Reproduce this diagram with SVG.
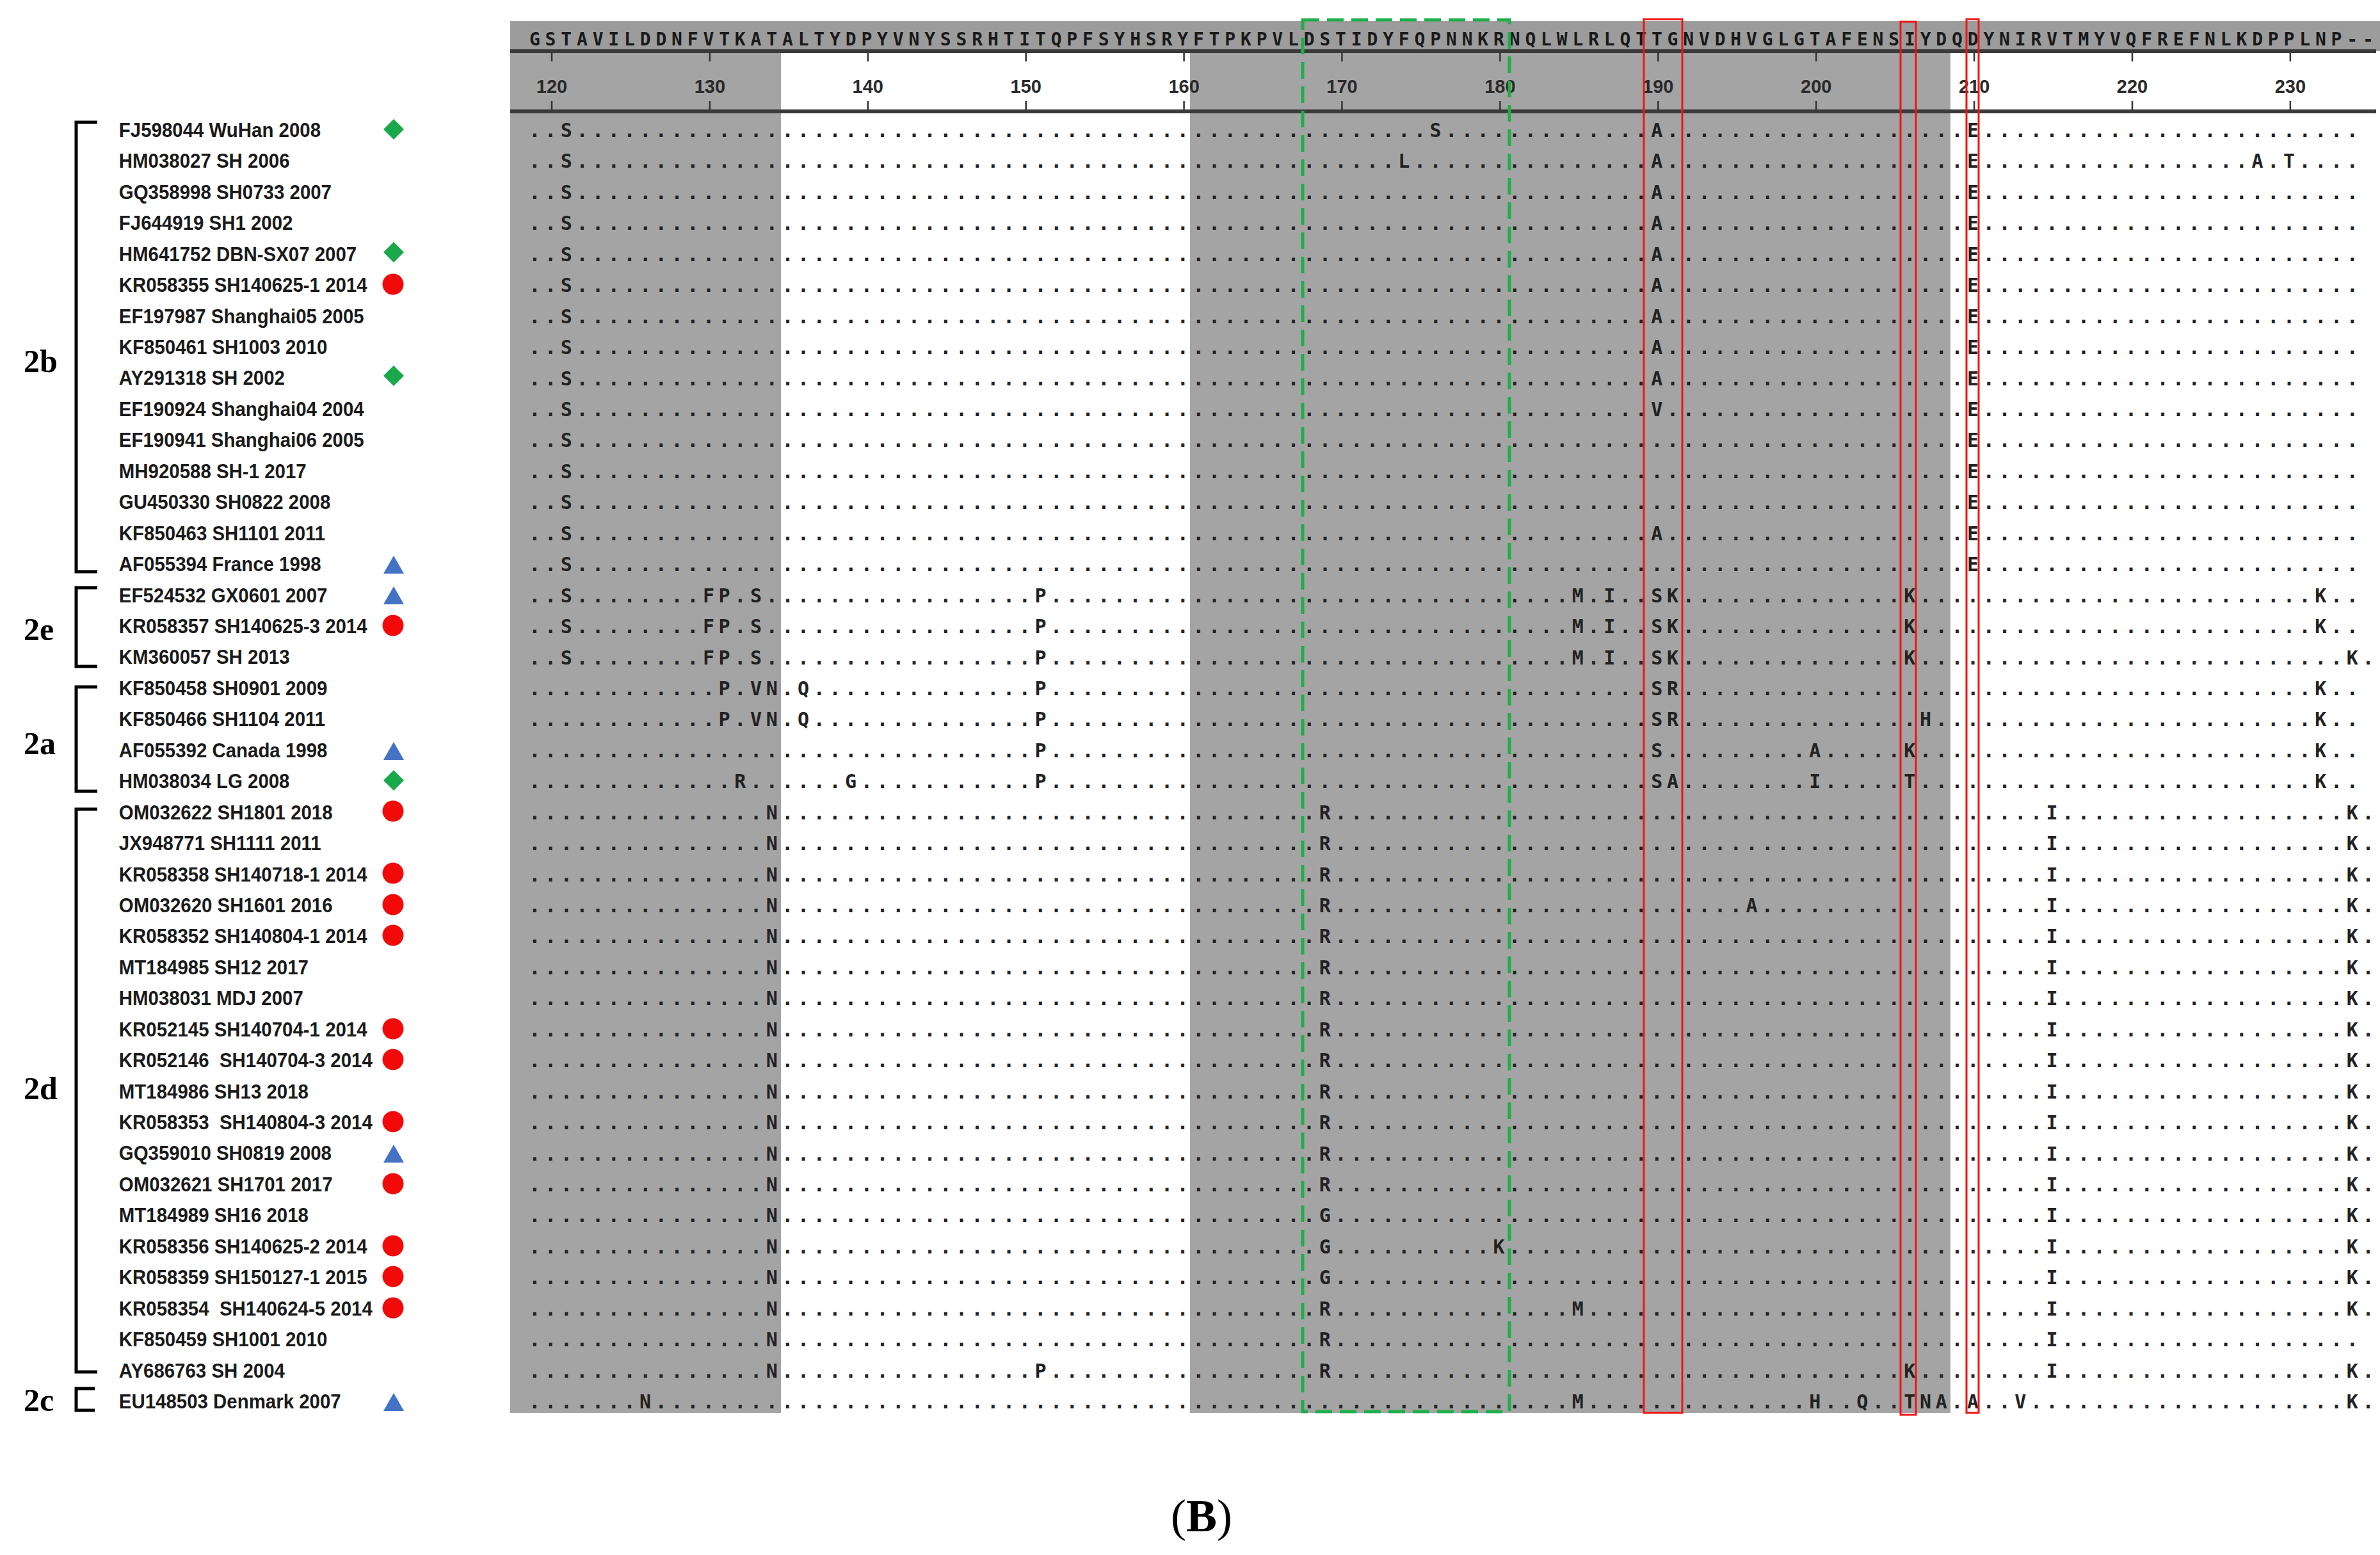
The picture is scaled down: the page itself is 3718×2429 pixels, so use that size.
<svg xmlns="http://www.w3.org/2000/svg" width="3718" height="2429" viewBox="0 0 3718 2429">
<style>
.seq{font-family:"DejaVu Sans Mono",monospace;font-weight:700;font-size:30px;letter-spacing:6.63px;fill:#222}
.hdr{font-family:"DejaVu Sans Mono",monospace;font-weight:700;font-size:28px;letter-spacing:7.833px;fill:#1a1a1a}
.num{font-family:"Liberation Sans",Arial,sans-serif;font-weight:700;font-size:29px;fill:#2a2a2a;text-anchor:middle}
.lbl{font-family:"Liberation Sans",Arial,sans-serif;font-weight:700;font-size:32px;fill:#1a1a1a}
.grp{font-family:"Liberation Serif","Times New Roman",serif;font-weight:700;font-size:50px;fill:#000}
.br{fill:none;stroke:#000;stroke-width:5}
.dia{fill:#19a94b}.cir{fill:#f20a0a}.tri{fill:#4472c4}
.tick{stroke:#333;stroke-width:2.5}
.rb{fill:none;stroke:#f01414;stroke-width:3}
</style>
<rect width="3718" height="2429" fill="#fff"/>
<g id="shading">
<rect x="797" y="33" width="2921" height="47" fill="#9c9c9c"/>
<rect x="797" y="78" width="423" height="2129" fill="#a4a4a4"/>
<rect x="1859" y="78" width="1188" height="2129" fill="#a4a4a4"/>
</g>
<g id="ruler">
<line x1="797" y1="80" x2="3712" y2="80" stroke="#3a3a3a" stroke-width="6"/>
<line x1="797" y1="174" x2="3712" y2="174" stroke="#3a3a3a" stroke-width="6"/>
<g class="tick">
<line x1="862" y1="82" x2="862" y2="96"/><line x1="862" y1="158" x2="862" y2="172"/>
<line x1="1108.9" y1="82" x2="1108.9" y2="96"/><line x1="1108.9" y1="158" x2="1108.9" y2="172"/>
<line x1="1355.8" y1="82" x2="1355.8" y2="96"/><line x1="1355.8" y1="158" x2="1355.8" y2="172"/>
<line x1="1602.7" y1="82" x2="1602.7" y2="96"/><line x1="1602.7" y1="158" x2="1602.7" y2="172"/>
<line x1="1849.6" y1="82" x2="1849.6" y2="96"/><line x1="1849.6" y1="158" x2="1849.6" y2="172"/>
<line x1="2096.5" y1="82" x2="2096.5" y2="96"/><line x1="2096.5" y1="158" x2="2096.5" y2="172"/>
<line x1="2343.4" y1="82" x2="2343.4" y2="96"/><line x1="2343.4" y1="158" x2="2343.4" y2="172"/>
<line x1="2590.3" y1="82" x2="2590.3" y2="96"/><line x1="2590.3" y1="158" x2="2590.3" y2="172"/>
<line x1="2837.2" y1="82" x2="2837.2" y2="96"/><line x1="2837.2" y1="158" x2="2837.2" y2="172"/>
<line x1="3084.1" y1="82" x2="3084.1" y2="96"/><line x1="3084.1" y1="158" x2="3084.1" y2="172"/>
<line x1="3331" y1="82" x2="3331" y2="96"/><line x1="3331" y1="158" x2="3331" y2="172"/>
<line x1="3577.9" y1="82" x2="3577.9" y2="96"/><line x1="3577.9" y1="158" x2="3577.9" y2="172"/>
</g>
<text class="num" x="862" y="145">120</text>
<text class="num" x="1108.9" y="145">130</text>
<text class="num" x="1355.8" y="145">140</text>
<text class="num" x="1602.7" y="145">150</text>
<text class="num" x="1849.6" y="145">160</text>
<text class="num" x="2096.5" y="145">170</text>
<text class="num" x="2343.4" y="145">180</text>
<text class="num" x="2590.3" y="145">190</text>
<text class="num" x="2837.2" y="145">200</text>
<text class="num" x="3084.1" y="145">210</text>
<text class="num" x="3331" y="145">220</text>
<text class="num" x="3577.9" y="145">230</text>
<text class="hdr" x="826.9" y="71">GSTAVILDDNFVTKATALTYDPYVNYSSRHTITQPFSYHSRYFTPKPVLDSTIDYFQPNNKRNQLWLRLQTTGNVDHVGLGTAFENSIYDQDYNIRVTMYVQFREFNLKDPPLNP--</text>
</g>
<g id="brackets">
<path class="br" d="M152,191 H119 V893 H152"/>
<path class="br" d="M152,918 H119 V1041 H152"/>
<path class="br" d="M152,1073 H119 V1236 H152"/>
<path class="br" d="M152,1264 H119 V2143 H152"/>
<path class="br" d="M148,2169 H119 V2203 H148"/>
<text class="grp" x="37" y="581">2b</text>
<text class="grp" x="37" y="1000">2e</text>
<text class="grp" x="37" y="1178">2a</text>
<text class="grp" x="37" y="1717">2d</text>
<text class="grp" x="37" y="2204">2c</text>
</g>
<g id="r01"><text class="lbl" transform="scale(0.92,1)" x="202" y="214">FJ598044 WuHan 2008</text><polygon class="dia" points="615,186 631,202 615,218 599,202"/>
<text class="seq" y="214"><tspan x="826.3">..</tspan><tspan x="875.7">S</tspan><tspan x="900.4">......................................................</tspan><tspan x="2233.6">S</tspan><tspan x="2258.3">.............</tspan><tspan x="2579.3">A</tspan><tspan x="2604">...................</tspan><tspan x="3073.1">E</tspan><tspan x="3097.8">........................</tspan></text></g>
<g id="r02"><text class="lbl" transform="scale(0.92,1)" x="202" y="262.4">HM038027 SH 2006</text>
<text class="seq" y="262.4"><tspan x="826.3">..</tspan><tspan x="875.7">S</tspan><tspan x="900.4">....................................................</tspan><tspan x="2184.3">L</tspan><tspan x="2208.9">...............</tspan><tspan x="2579.3">A</tspan><tspan x="2604">...................</tspan><tspan x="3073.1">E</tspan><tspan x="3097.8">.................</tspan><tspan x="3517.5">A.T</tspan><tspan x="3591.6">....</tspan></text></g>
<g id="r03"><text class="lbl" transform="scale(0.92,1)" x="202" y="310.9">GQ358998 SH0733 2007</text>
<text class="seq" y="310.9"><tspan x="826.3">..</tspan><tspan x="875.7">S</tspan><tspan x="900.4">....................................................................</tspan><tspan x="2579.3">A</tspan><tspan x="2604">...................</tspan><tspan x="3073.1">E</tspan><tspan x="3097.8">........................</tspan></text></g>
<g id="r04"><text class="lbl" transform="scale(0.92,1)" x="202" y="359.3">FJ644919 SH1 2002</text>
<text class="seq" y="359.3"><tspan x="826.3">..</tspan><tspan x="875.7">S</tspan><tspan x="900.4">....................................................................</tspan><tspan x="2579.3">A</tspan><tspan x="2604">...................</tspan><tspan x="3073.1">E</tspan><tspan x="3097.8">........................</tspan></text></g>
<g id="r05"><text class="lbl" transform="scale(0.92,1)" x="202" y="407.8">HM641752 DBN-SX07 2007</text><polygon class="dia" points="615,378 631,394 615,410 599,394"/>
<text class="seq" y="407.8"><tspan x="826.3">..</tspan><tspan x="875.7">S</tspan><tspan x="900.4">....................................................................</tspan><tspan x="2579.3">A</tspan><tspan x="2604">...................</tspan><tspan x="3073.1">E</tspan><tspan x="3097.8">........................</tspan></text></g>
<g id="r06"><text class="lbl" transform="scale(0.92,1)" x="202" y="456.2">KR058355 SH140625-1 2014</text><circle class="cir" cx="614" cy="444" r="16.5"/>
<text class="seq" y="456.2"><tspan x="826.3">..</tspan><tspan x="875.7">S</tspan><tspan x="900.4">....................................................................</tspan><tspan x="2579.3">A</tspan><tspan x="2604">...................</tspan><tspan x="3073.1">E</tspan><tspan x="3097.8">........................</tspan></text></g>
<g id="r07"><text class="lbl" transform="scale(0.92,1)" x="202" y="504.6">EF197987 Shanghai05 2005</text>
<text class="seq" y="504.6"><tspan x="826.3">..</tspan><tspan x="875.7">S</tspan><tspan x="900.4">....................................................................</tspan><tspan x="2579.3">A</tspan><tspan x="2604">...................</tspan><tspan x="3073.1">E</tspan><tspan x="3097.8">........................</tspan></text></g>
<g id="r08"><text class="lbl" transform="scale(0.92,1)" x="202" y="553.1">KF850461 SH1003 2010</text>
<text class="seq" y="553.1"><tspan x="826.3">..</tspan><tspan x="875.7">S</tspan><tspan x="900.4">....................................................................</tspan><tspan x="2579.3">A</tspan><tspan x="2604">...................</tspan><tspan x="3073.1">E</tspan><tspan x="3097.8">........................</tspan></text></g>
<g id="r09"><text class="lbl" transform="scale(0.92,1)" x="202" y="601.5">AY291318 SH 2002</text><polygon class="dia" points="615,571 631,587 615,603 599,587"/>
<text class="seq" y="601.5"><tspan x="826.3">..</tspan><tspan x="875.7">S</tspan><tspan x="900.4">....................................................................</tspan><tspan x="2579.3">A</tspan><tspan x="2604">...................</tspan><tspan x="3073.1">E</tspan><tspan x="3097.8">........................</tspan></text></g>
<g id="r10"><text class="lbl" transform="scale(0.92,1)" x="202" y="650">EF190924 Shanghai04 2004</text>
<text class="seq" y="650"><tspan x="826.3">..</tspan><tspan x="875.7">S</tspan><tspan x="900.4">....................................................................</tspan><tspan x="2579.3">V</tspan><tspan x="2604">...................</tspan><tspan x="3073.1">E</tspan><tspan x="3097.8">........................</tspan></text></g>
<g id="r11"><text class="lbl" transform="scale(0.92,1)" x="202" y="698.4">EF190941 Shanghai06 2005</text>
<text class="seq" y="698.4"><tspan x="826.3">..</tspan><tspan x="875.7">S</tspan><tspan x="900.4">........................................................................................</tspan><tspan x="3073.1">E</tspan><tspan x="3097.8">........................</tspan></text></g>
<g id="r12"><text class="lbl" transform="scale(0.92,1)" x="202" y="746.8">MH920588 SH-1 2017</text>
<text class="seq" y="746.8"><tspan x="826.3">..</tspan><tspan x="875.7">S</tspan><tspan x="900.4">........................................................................................</tspan><tspan x="3073.1">E</tspan><tspan x="3097.8">........................</tspan></text></g>
<g id="r13"><text class="lbl" transform="scale(0.92,1)" x="202" y="795.3">GU450330 SH0822 2008</text>
<text class="seq" y="795.3"><tspan x="826.3">..</tspan><tspan x="875.7">S</tspan><tspan x="900.4">........................................................................................</tspan><tspan x="3073.1">E</tspan><tspan x="3097.8">........................</tspan></text></g>
<g id="r14"><text class="lbl" transform="scale(0.92,1)" x="202" y="843.7">KF850463 SH1101 2011</text>
<text class="seq" y="843.7"><tspan x="826.3">..</tspan><tspan x="875.7">S</tspan><tspan x="900.4">....................................................................</tspan><tspan x="2579.3">A</tspan><tspan x="2604">...................</tspan><tspan x="3073.1">E</tspan><tspan x="3097.8">........................</tspan></text></g>
<g id="r15"><text class="lbl" transform="scale(0.92,1)" x="202" y="892.2">AF055394 France 1998</text><polygon class="tri" points="615,868 631,896 599,896"/>
<text class="seq" y="892.2"><tspan x="826.3">..</tspan><tspan x="875.7">S</tspan><tspan x="900.4">........................................................................................</tspan><tspan x="3073.1">E</tspan><tspan x="3097.8">........................</tspan></text></g>
<g id="r16"><text class="lbl" transform="scale(0.92,1)" x="202" y="940.6">EF524532 GX0601 2007</text><polygon class="tri" points="615,916 631,944 599,944"/>
<text class="seq" y="940.6"><tspan x="826.3">..</tspan><tspan x="875.7">S</tspan><tspan x="900.4">........</tspan><tspan x="1097.9">FP.S</tspan><tspan x="1196.7">.................</tspan><tspan x="1616.4">P</tspan><tspan x="1641.1">.................................</tspan><tspan x="2455.8">M.I</tspan><tspan x="2529.9">..</tspan><tspan x="2579.3">SK</tspan><tspan x="2628.7">..............</tspan><tspan x="2974.3">K</tspan><tspan x="2999">.........................</tspan><tspan x="3616.3">K</tspan><tspan x="3641">..</tspan></text></g>
<g id="r17"><text class="lbl" transform="scale(0.92,1)" x="202" y="989">KR058357 SH140625-3 2014</text><circle class="cir" cx="614" cy="977" r="16.5"/>
<text class="seq" y="989"><tspan x="826.3">..</tspan><tspan x="875.7">S</tspan><tspan x="900.4">........</tspan><tspan x="1097.9">FP.S</tspan><tspan x="1196.7">.................</tspan><tspan x="1616.4">P</tspan><tspan x="1641.1">.................................</tspan><tspan x="2455.8">M.I</tspan><tspan x="2529.9">..</tspan><tspan x="2579.3">SK</tspan><tspan x="2628.7">..............</tspan><tspan x="2974.3">K</tspan><tspan x="2999">.........................</tspan><tspan x="3616.3">K</tspan><tspan x="3641">..</tspan></text></g>
<g id="r18"><text class="lbl" transform="scale(0.92,1)" x="202" y="1037.5">KM360057 SH 2013</text>
<text class="seq" y="1037.5"><tspan x="826.3">..</tspan><tspan x="875.7">S</tspan><tspan x="900.4">........</tspan><tspan x="1097.9">FP.S</tspan><tspan x="1196.7">.................</tspan><tspan x="1616.4">P</tspan><tspan x="1641.1">.................................</tspan><tspan x="2455.8">M.I</tspan><tspan x="2529.9">..</tspan><tspan x="2579.3">SK</tspan><tspan x="2628.7">..............</tspan><tspan x="2974.3">K</tspan><tspan x="2999">...........................</tspan><tspan x="3665.7">K.</tspan></text></g>
<g id="r19"><text class="lbl" transform="scale(0.92,1)" x="202" y="1085.9">KF850458 SH0901 2009</text>
<text class="seq" y="1085.9"><tspan x="826.3">............</tspan><tspan x="1122.6">P.VN.Q</tspan><tspan x="1270.7">..............</tspan><tspan x="1616.4">P</tspan><tspan x="1641.1">......................................</tspan><tspan x="2579.3">SR</tspan><tspan x="2628.7">........................................</tspan><tspan x="3616.3">K</tspan><tspan x="3641">..</tspan></text></g>
<g id="r20"><text class="lbl" transform="scale(0.92,1)" x="202" y="1134.4">KF850466 SH1104 2011</text>
<text class="seq" y="1134.4"><tspan x="826.3">............</tspan><tspan x="1122.6">P.VN.Q</tspan><tspan x="1270.7">..............</tspan><tspan x="1616.4">P</tspan><tspan x="1641.1">......................................</tspan><tspan x="2579.3">SR</tspan><tspan x="2628.7">...............</tspan><tspan x="2999">H</tspan><tspan x="3023.7">........................</tspan><tspan x="3616.3">K</tspan><tspan x="3641">..</tspan></text></g>
<g id="r21"><text class="lbl" transform="scale(0.92,1)" x="202" y="1182.8">AF055392 Canada 1998</text><polygon class="tri" points="615,1159 631,1187 599,1187"/>
<text class="seq" y="1182.8"><tspan x="826.3">................................</tspan><tspan x="1616.4">P</tspan><tspan x="1641.1">......................................</tspan><tspan x="2579.3">S</tspan><tspan x="2604">.........</tspan><tspan x="2826.2">A</tspan><tspan x="2850.9">.....</tspan><tspan x="2974.3">K</tspan><tspan x="2999">.........................</tspan><tspan x="3616.3">K</tspan><tspan x="3641">..</tspan></text></g>
<g id="r22"><text class="lbl" transform="scale(0.92,1)" x="202" y="1231.2">HM038034 LG 2008</text><polygon class="dia" points="615,1203 631,1219 615,1235 599,1219"/>
<text class="seq" y="1231.2"><tspan x="826.3">.............</tspan><tspan x="1147.3">R</tspan><tspan x="1172">......</tspan><tspan x="1320.1">G</tspan><tspan x="1344.8">...........</tspan><tspan x="1616.4">P</tspan><tspan x="1641.1">......................................</tspan><tspan x="2579.3">SA</tspan><tspan x="2628.7">........</tspan><tspan x="2826.2">I</tspan><tspan x="2850.9">.....</tspan><tspan x="2974.3">T</tspan><tspan x="2999">.........................</tspan><tspan x="3616.3">K</tspan><tspan x="3641">..</tspan></text></g>
<g id="r23"><text class="lbl" transform="scale(0.92,1)" x="202" y="1279.7">OM032622 SH1801 2018</text><circle class="cir" cx="614" cy="1267" r="16.5"/>
<text class="seq" y="1279.7"><tspan x="826.3">...............</tspan><tspan x="1196.7">N</tspan><tspan x="1221.3">..................................</tspan><tspan x="2060.8">R</tspan><tspan x="2085.5">.............................................</tspan><tspan x="3196.5">I</tspan><tspan x="3221.2">..................</tspan><tspan x="3665.7">K.</tspan></text></g>
<g id="r24"><text class="lbl" transform="scale(0.92,1)" x="202" y="1328.1">JX948771 SH1111 2011</text>
<text class="seq" y="1328.1"><tspan x="826.3">...............</tspan><tspan x="1196.7">N</tspan><tspan x="1221.3">..................................</tspan><tspan x="2060.8">R</tspan><tspan x="2085.5">.............................................</tspan><tspan x="3196.5">I</tspan><tspan x="3221.2">..................</tspan><tspan x="3665.7">K.</tspan></text></g>
<g id="r25"><text class="lbl" transform="scale(0.92,1)" x="202" y="1376.6">KR058358 SH140718-1 2014</text><circle class="cir" cx="614" cy="1364" r="16.5"/>
<text class="seq" y="1376.6"><tspan x="826.3">...............</tspan><tspan x="1196.7">N</tspan><tspan x="1221.3">..................................</tspan><tspan x="2060.8">R</tspan><tspan x="2085.5">.............................................</tspan><tspan x="3196.5">I</tspan><tspan x="3221.2">..................</tspan><tspan x="3665.7">K.</tspan></text></g>
<g id="r26"><text class="lbl" transform="scale(0.92,1)" x="202" y="1425">OM032620 SH1601 2016</text><circle class="cir" cx="614" cy="1413" r="16.5"/>
<text class="seq" y="1425"><tspan x="826.3">...............</tspan><tspan x="1196.7">N</tspan><tspan x="1221.3">..................................</tspan><tspan x="2060.8">R</tspan><tspan x="2085.5">..........................</tspan><tspan x="2727.4">A</tspan><tspan x="2752.1">..................</tspan><tspan x="3196.5">I</tspan><tspan x="3221.2">..................</tspan><tspan x="3665.7">K.</tspan></text></g>
<g id="r27"><text class="lbl" transform="scale(0.92,1)" x="202" y="1473.4">KR058352 SH140804-1 2014</text><circle class="cir" cx="614" cy="1461" r="16.5"/>
<text class="seq" y="1473.4"><tspan x="826.3">...............</tspan><tspan x="1196.7">N</tspan><tspan x="1221.3">..................................</tspan><tspan x="2060.8">R</tspan><tspan x="2085.5">.............................................</tspan><tspan x="3196.5">I</tspan><tspan x="3221.2">..................</tspan><tspan x="3665.7">K.</tspan></text></g>
<g id="r28"><text class="lbl" transform="scale(0.92,1)" x="202" y="1521.9">MT184985 SH12 2017</text>
<text class="seq" y="1521.9"><tspan x="826.3">...............</tspan><tspan x="1196.7">N</tspan><tspan x="1221.3">..................................</tspan><tspan x="2060.8">R</tspan><tspan x="2085.5">.............................................</tspan><tspan x="3196.5">I</tspan><tspan x="3221.2">..................</tspan><tspan x="3665.7">K.</tspan></text></g>
<g id="r29"><text class="lbl" transform="scale(0.92,1)" x="202" y="1570.3">HM038031 MDJ 2007</text>
<text class="seq" y="1570.3"><tspan x="826.3">...............</tspan><tspan x="1196.7">N</tspan><tspan x="1221.3">..................................</tspan><tspan x="2060.8">R</tspan><tspan x="2085.5">.............................................</tspan><tspan x="3196.5">I</tspan><tspan x="3221.2">..................</tspan><tspan x="3665.7">K.</tspan></text></g>
<g id="r30"><text class="lbl" transform="scale(0.92,1)" x="202" y="1618.8">KR052145 SH140704-1 2014</text><circle class="cir" cx="614" cy="1607" r="16.5"/>
<text class="seq" y="1618.8"><tspan x="826.3">...............</tspan><tspan x="1196.7">N</tspan><tspan x="1221.3">..................................</tspan><tspan x="2060.8">R</tspan><tspan x="2085.5">.............................................</tspan><tspan x="3196.5">I</tspan><tspan x="3221.2">..................</tspan><tspan x="3665.7">K.</tspan></text></g>
<g id="r31"><text class="lbl" transform="scale(0.92,1)" x="202" y="1667.2" xml:space="preserve">KR052146  SH140704-3 2014</text><circle class="cir" cx="614" cy="1655" r="16.5"/>
<text class="seq" y="1667.2"><tspan x="826.3">...............</tspan><tspan x="1196.7">N</tspan><tspan x="1221.3">..................................</tspan><tspan x="2060.8">R</tspan><tspan x="2085.5">.............................................</tspan><tspan x="3196.5">I</tspan><tspan x="3221.2">..................</tspan><tspan x="3665.7">K.</tspan></text></g>
<g id="r32"><text class="lbl" transform="scale(0.92,1)" x="202" y="1715.6">MT184986 SH13 2018</text>
<text class="seq" y="1715.6"><tspan x="826.3">...............</tspan><tspan x="1196.7">N</tspan><tspan x="1221.3">..................................</tspan><tspan x="2060.8">R</tspan><tspan x="2085.5">.............................................</tspan><tspan x="3196.5">I</tspan><tspan x="3221.2">..................</tspan><tspan x="3665.7">K.</tspan></text></g>
<g id="r33"><text class="lbl" transform="scale(0.92,1)" x="202" y="1764.1" xml:space="preserve">KR058353  SH140804-3 2014</text><circle class="cir" cx="614" cy="1752" r="16.5"/>
<text class="seq" y="1764.1"><tspan x="826.3">...............</tspan><tspan x="1196.7">N</tspan><tspan x="1221.3">..................................</tspan><tspan x="2060.8">R</tspan><tspan x="2085.5">.............................................</tspan><tspan x="3196.5">I</tspan><tspan x="3221.2">..................</tspan><tspan x="3665.7">K.</tspan></text></g>
<g id="r34"><text class="lbl" transform="scale(0.92,1)" x="202" y="1812.5">GQ359010 SH0819 2008</text><polygon class="tri" points="615,1788 631,1816 599,1816"/>
<text class="seq" y="1812.5"><tspan x="826.3">...............</tspan><tspan x="1196.7">N</tspan><tspan x="1221.3">..................................</tspan><tspan x="2060.8">R</tspan><tspan x="2085.5">.............................................</tspan><tspan x="3196.5">I</tspan><tspan x="3221.2">..................</tspan><tspan x="3665.7">K.</tspan></text></g>
<g id="r35"><text class="lbl" transform="scale(0.92,1)" x="202" y="1861">OM032621 SH1701 2017</text><circle class="cir" cx="614" cy="1849" r="16.5"/>
<text class="seq" y="1861"><tspan x="826.3">...............</tspan><tspan x="1196.7">N</tspan><tspan x="1221.3">..................................</tspan><tspan x="2060.8">R</tspan><tspan x="2085.5">.............................................</tspan><tspan x="3196.5">I</tspan><tspan x="3221.2">..................</tspan><tspan x="3665.7">K.</tspan></text></g>
<g id="r36"><text class="lbl" transform="scale(0.92,1)" x="202" y="1909.4">MT184989 SH16 2018</text>
<text class="seq" y="1909.4"><tspan x="826.3">...............</tspan><tspan x="1196.7">N</tspan><tspan x="1221.3">..................................</tspan><tspan x="2060.8">G</tspan><tspan x="2085.5">.............................................</tspan><tspan x="3196.5">I</tspan><tspan x="3221.2">..................</tspan><tspan x="3665.7">K.</tspan></text></g>
<g id="r37"><text class="lbl" transform="scale(0.92,1)" x="202" y="1957.8">KR058356 SH140625-2 2014</text><circle class="cir" cx="614" cy="1946" r="16.5"/>
<text class="seq" y="1957.8"><tspan x="826.3">...............</tspan><tspan x="1196.7">N</tspan><tspan x="1221.3">..................................</tspan><tspan x="2060.8">G</tspan><tspan x="2085.5">..........</tspan><tspan x="2332.4">K</tspan><tspan x="2357.1">..................................</tspan><tspan x="3196.5">I</tspan><tspan x="3221.2">..................</tspan><tspan x="3665.7">K.</tspan></text></g>
<g id="r38"><text class="lbl" transform="scale(0.92,1)" x="202" y="2006.3">KR058359 SH150127-1 2015</text><circle class="cir" cx="614" cy="1994" r="16.5"/>
<text class="seq" y="2006.3"><tspan x="826.3">...............</tspan><tspan x="1196.7">N</tspan><tspan x="1221.3">..................................</tspan><tspan x="2060.8">G</tspan><tspan x="2085.5">.............................................</tspan><tspan x="3196.5">I</tspan><tspan x="3221.2">..................</tspan><tspan x="3665.7">K.</tspan></text></g>
<g id="r39"><text class="lbl" transform="scale(0.92,1)" x="202" y="2054.7" xml:space="preserve">KR058354  SH140624-5 2014</text><circle class="cir" cx="614" cy="2043" r="16.5"/>
<text class="seq" y="2054.7"><tspan x="826.3">...............</tspan><tspan x="1196.7">N</tspan><tspan x="1221.3">..................................</tspan><tspan x="2060.8">R</tspan><tspan x="2085.5">...............</tspan><tspan x="2455.8">M</tspan><tspan x="2480.5">.............................</tspan><tspan x="3196.5">I</tspan><tspan x="3221.2">..................</tspan><tspan x="3665.7">K.</tspan></text></g>
<g id="r40"><text class="lbl" transform="scale(0.92,1)" x="202" y="2103.2">KF850459 SH1001 2010</text>
<text class="seq" y="2103.2"><tspan x="826.3">...............</tspan><tspan x="1196.7">N</tspan><tspan x="1221.3">..................................</tspan><tspan x="2060.8">R</tspan><tspan x="2085.5">.............................................</tspan><tspan x="3196.5">I</tspan><tspan x="3221.2">...................</tspan></text></g>
<g id="r41"><text class="lbl" transform="scale(0.92,1)" x="202" y="2151.6">AY686763 SH 2004</text>
<text class="seq" y="2151.6"><tspan x="826.3">...............</tspan><tspan x="1196.7">N</tspan><tspan x="1221.3">................</tspan><tspan x="1616.4">P</tspan><tspan x="1641.1">.................</tspan><tspan x="2060.8">R</tspan><tspan x="2085.5">....................................</tspan><tspan x="2974.3">K</tspan><tspan x="2999">........</tspan><tspan x="3196.5">I</tspan><tspan x="3221.2">..................</tspan><tspan x="3665.7">K.</tspan></text></g>
<g id="r42"><text class="lbl" transform="scale(0.92,1)" x="202" y="2200">EU148503 Denmark 2007</text><polygon class="tri" points="615,2176 631,2204 599,2204"/>
<text class="seq" y="2200"><tspan x="826.3">.......</tspan><tspan x="999.1">N</tspan><tspan x="1023.8">..........................................................</tspan><tspan x="2455.8">M</tspan><tspan x="2480.5">..............</tspan><tspan x="2826.2">H</tspan><tspan x="2850.9">..</tspan><tspan x="2900.3">Q</tspan><tspan x="2925">..</tspan><tspan x="2974.3">TNA.A</tspan><tspan x="3097.8">..</tspan><tspan x="3147.2">V</tspan><tspan x="3171.9">....................</tspan><tspan x="3665.7">K.</tspan></text></g>
<g id="highlights">
<rect x="2035" y="31" width="323" height="2174" fill="none" stroke="#1fae4b" stroke-width="5" stroke-dasharray="26 12"/>
<rect class="rb" x="2568" y="30" width="60" height="2177"/>
<rect class="rb" x="2969" y="34" width="24" height="2176"/>
<rect class="rb" x="3072" y="30" width="19" height="2177"/>
</g>
<text x="1877" y="2392" text-anchor="middle" font-family="Liberation Serif, Times New Roman, serif" font-size="72" fill="#000">(<tspan font-weight="700">B</tspan>)</text>
</svg>
